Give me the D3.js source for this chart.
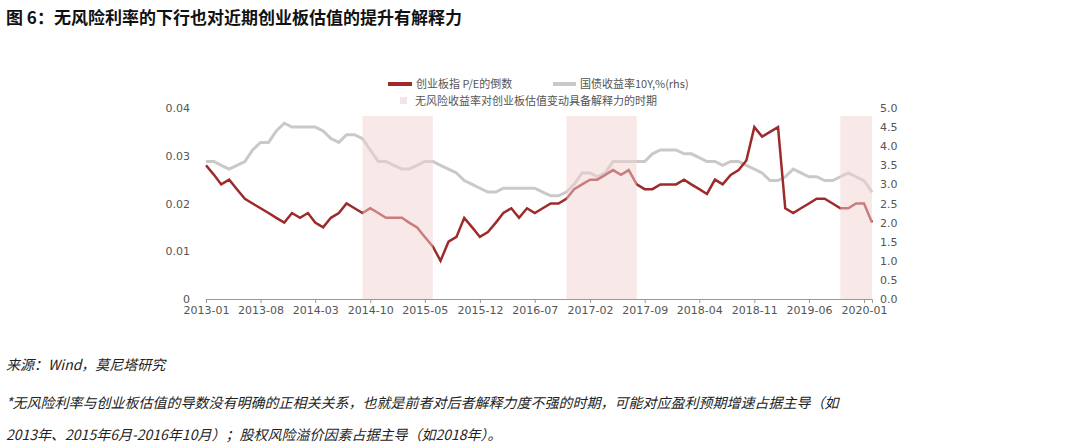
<!DOCTYPE html>
<html><head><meta charset="utf-8">
<script src="https://cdn.jsdelivr.net/npm/d3@7"></script>
<style>
body{margin:0;background:#fff;font-family:"Noto Sans CJK SC",sans-serif}
</style></head><body>
<svg id="c" width="1080" height="448"></svg>
<script>
// monthly, 2013-01 .. 2020-02
const startMonth = new Date(2013, 0, 1)
const peInverse = [
  .028,.026,.024,.025,.023,.021,.020,.019,.018,.017,.016,.018,
  .017,.018,.016,.015,.017,.018,.020,.019,.018,.019,.018,.017,
  .017,.017,.016,.015,.013,.011,.008,.012,.013,.017,.015,.013,
  .014,.016,.018,.019,.017,.019,.018,.019,.020,.020,.021,.023,
  .024,.025,.025,.026,.027,.026,.027,.024,.023,.023,.024,.024,
  .024,.025,.024,.023,.022,.025,.024,.026,.027,.029,.036,.034,
  .035,.036,.019,.018,.019,.020,.021,.021,.020,.019,.019,.020,
  .020,.016
]
const bondYield = [
  3.6,3.6,3.5,3.4,3.5,3.6,3.9,4.1,4.1,4.4,4.6,4.5,
  4.5,4.5,4.5,4.4,4.2,4.1,4.3,4.3,4.2,3.9,3.6,3.6,
  3.5,3.4,3.4,3.5,3.6,3.6,3.5,3.4,3.3,3.1,3.0,2.9,
  2.8,2.8,2.9,2.9,2.9,2.9,2.9,2.8,2.7,2.7,2.8,3.0,
  3.3,3.3,3.2,3.3,3.6,3.6,3.6,3.6,3.6,3.8,3.9,3.9,
  3.9,3.8,3.8,3.7,3.6,3.6,3.5,3.6,3.6,3.5,3.4,3.3,
  3.1,3.1,3.2,3.4,3.3,3.2,3.2,3.1,3.1,3.2,3.3,3.2,
  3.1,2.8
]
const shadePeriods = [["2014-09","2015-06"],["2016-11","2017-08"],["2019-10","2020-02"]]
const xTickLabels = ["2013-01","2013-08","2014-03","2014-10","2015-05","2015-12","2016-07","2017-02","2017-09","2018-04","2018-11","2019-06","2020-01"]
const leftTicks = [0, 0.01, 0.02, 0.03, 0.04]
const rightTicks = [0,0.5,1,1.5,2,2.5,3,3.5,4,4.5,5]

const svg = d3.select("#c")
const parse = d3.timeParse("%Y-%m")
const months = peInverse.map((_, i) => d3.timeMonth.offset(startMonth, i))

const x = d3.scaleTime().domain([startMonth, months[months.length - 1]]).range([206, 872])
const yL = d3.scaleLinear().domain([0, 0.04]).range([299, 108])
const yR = d3.scaleLinear().domain([0, 5]).range([299, 108])

// title
svg.append("text").attr("x", 6).attr("y", 24).attr("font-size", 17).attr("font-weight", "bold")
  .attr("fill", "#111").text("图 6：无风险利率的下行也对近期创业板估值的提升有解释力")

// lines
svg.append("path").datum(bondYield).attr("fill", "none").attr("stroke", "#c9c9c9").attr("stroke-width", 3)
  .attr("d", d3.line().x((d, i) => x(months[i])).y(d => yR(d)))
svg.append("path").datum(peInverse).attr("fill", "none").attr("stroke", "#9e2b2b").attr("stroke-width", 2.5)
  .attr("d", d3.line().x((d, i) => x(months[i])).y(d => yL(d)))

// shaded periods overlay
svg.selectAll(".shade").data(shadePeriods).enter().append("rect")
  .attr("x", d => x(parse(d[0]))).attr("width", d => x(parse(d[1])) - x(parse(d[0])))
  .attr("y", 116).attr("height", 299 - 116)
  .attr("fill", "#f2d2d2").attr("opacity", 0.5)

// axes
const tickFont = g => g.selectAll("text").attr("font-family", "DejaVu Sans").attr("font-size", 11).attr("fill", "#555")
const xAxis = svg.append("g").attr("transform", "translate(0,299)")
  .call(d3.axisBottom(x).tickValues(xTickLabels.map(parse)).tickFormat(d3.timeFormat("%Y-%m")).tickSize(4))
xAxis.call(tickFont)
xAxis.selectAll("line,path").attr("stroke", "#999")
svg.append("g").attr("transform", "translate(196,0)")
  .call(d3.axisLeft(yL).tickValues(leftTicks).tickFormat(d => d === 0 ? "0" : d3.format(".2f")(d)).tickSize(0).tickPadding(6))
  .call(tickFont).call(g => g.select(".domain").remove())
svg.append("g").attr("transform", "translate(876,0)")
  .call(d3.axisRight(yR).tickValues(rightTicks).tickFormat(d3.format(".1f")).tickSize(0).tickPadding(4))
  .call(tickFont).call(g => g.select(".domain").remove())

// legend
const lg = svg.append("g").attr("font-size", 11).attr("fill", "#555")
lg.append("line").attr("x1", 388).attr("x2", 412).attr("y1", 84).attr("y2", 84).attr("stroke", "#9e2b2b").attr("stroke-width", 4)
lg.append("text").attr("x", 416).attr("y", 88).text("创业板指 P/E的倒数")
lg.append("line").attr("x1", 553).attr("x2", 576).attr("y1", 84).attr("y2", 84).attr("stroke", "#c9c9c9").attr("stroke-width", 4)
lg.append("text").attr("x", 580).attr("y", 88).text("国债收益率10Y,%(rhs)")
lg.append("rect").attr("x", 400).attr("y", 97).attr("width", 7).attr("height", 7).attr("fill", "#f6e4e4")
lg.append("text").attr("x", 415).attr("y", 105).text("无风险收益率对创业板估值变动具备解释力的时期")

// notes
const notes = svg.append("g").attr("font-size", 14).attr("fill", "#222").attr("font-style", "italic")
notes.append("text").attr("x", 6).attr("y", 370).text("来源：Wind，莫尼塔研究")
notes.append("text").attr("x", 6).attr("y", 408).text("*无风险利率与创业板估值的导数没有明确的正相关关系，也就是前者对后者解释力度不强的时期，可能对应盈利预期增速占据主导（如")
notes.append("text").attr("x", 6).attr("y", 440).text("2013年、2015年6月-2016年10月）；股权风险溢价因素占据主导（如2018年）。")
</script></body></html>
